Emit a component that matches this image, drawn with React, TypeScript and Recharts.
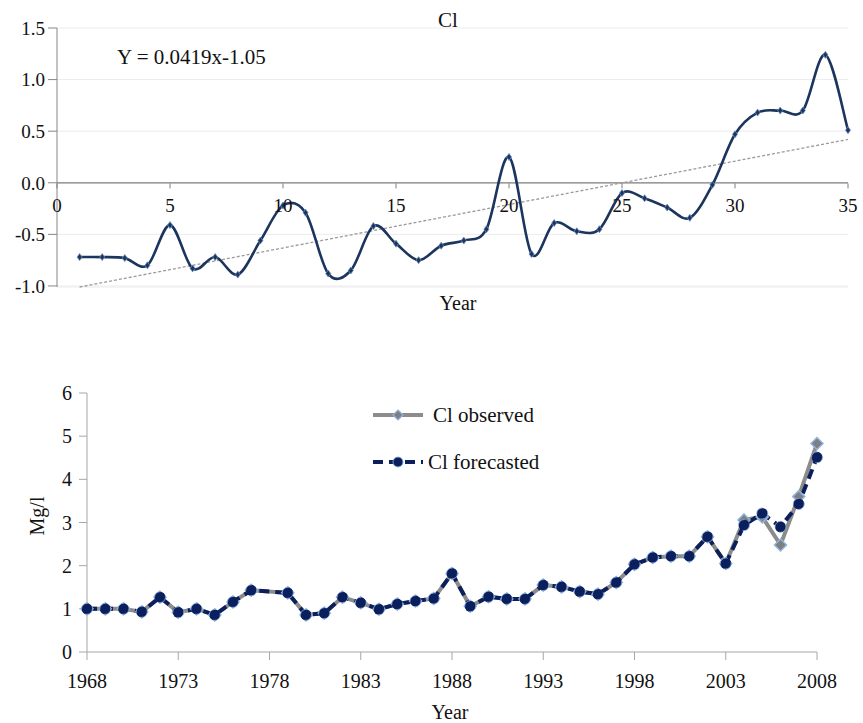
import { LineChart, Line, XAxis, YAxis, CartesianGrid, ReferenceLine } from "recharts";

const FONT = "'Liberation Serif', 'Times New Roman', serif";

// top panel: Cl anomaly by year index
const yearIndex = [1, 2, 3, 4, 5, 6, 7, 8, 9, 10, 11, 12, 13, 14, 15, 16, 17, 18, 19, 20, 21, 22, 23, 24, 25, 26, 27, 28, 29, 30, 31, 32, 33, 34, 35];
const clIndex = [-0.72, -0.72, -0.73, -0.8, -0.41, -0.83, -0.72, -0.89, -0.56, -0.22, -0.29, -0.88, -0.85, -0.42, -0.59, -0.75, -0.61, -0.56, -0.45, 0.25, -0.69, -0.39, -0.47, -0.45, -0.1, -0.15, -0.24, -0.34, -0.02, 0.47, 0.68, 0.7, 0.7, 1.24, 0.51];
const trendX = [1, 35];
const trendY = [-1.01, 0.42];
const topXTicks = [0, 5, 10, 15, 20, 25, 30, 35];
const topYTicks = [-1, -0.5, 0, 0.5, 1, 1.5];

// bottom panel: observed vs forecasted (1978 missing)
const years = [1968, 1969, 1970, 1971, 1972, 1973, 1974, 1975, 1976, 1977, 1978, 1979, 1980, 1981, 1982, 1983, 1984, 1985, 1986, 1987, 1988, 1989, 1990, 1991, 1992, 1993, 1994, 1995, 1996, 1997, 1998, 1999, 2000, 2001, 2002, 2003, 2004, 2005, 2006, 2007, 2008];
const observed = [1.0, 1.0, 1.0, 0.93, 1.27, 0.92, 1.0, 0.86, 1.16, 1.43, null, 1.37, 0.86, 0.9, 1.27, 1.14, 0.99, 1.11, 1.18, 1.24, 1.82, 1.06, 1.28, 1.23, 1.23, 1.55, 1.51, 1.4, 1.34, 1.61, 2.03, 2.19, 2.22, 2.22, 2.67, 2.05, 3.06, 3.13, 2.48, 3.6, 4.83];
const forecasted = [1.0, 1.0, 1.0, 0.93, 1.27, 0.92, 1.0, 0.86, 1.16, 1.43, null, 1.37, 0.86, 0.9, 1.27, 1.14, 0.99, 1.11, 1.18, 1.24, 1.82, 1.06, 1.28, 1.23, 1.23, 1.55, 1.51, 1.4, 1.34, 1.61, 2.03, 2.19, 2.22, 2.22, 2.67, 2.05, 2.94, 3.21, 2.9, 3.43, 4.51];
const yearTicks = [1968, 1973, 1978, 1983, 1988, 1993, 1998, 2003, 2008];
const mgTicks = [0, 1, 2, 3, 4, 5, 6];

const topData = yearIndex.map((x, i) => ({ x, cl: clIndex[i] }));
const trendData = trendX.map((x, i) => ({ x, cl: trendY[i] }));
const bottomData = years.map((year, i) => ({ year, observed: observed[i], forecasted: forecasted[i] }));

const NAVY = "#1c355e";
const DARK_NAVY = "#0b1f5c";

// layout of the top plot, used to put the x axis on the zero line
const TOP_H = 310;
const TOP_MARGIN = 28;
const TOP_XAXIS_H = 23;
const TOP_PLOT_H = TOP_H - TOP_MARGIN - TOP_XAXIS_H;
const ZERO_Y = TOP_MARGIN + TOP_PLOT_H * (1.5 / 2.5);

// excel-like smoothed line (catmull-rom style beziers)
function excelSmooth(context: any) {
  let pts: number[][] = [];
  return {
    areaStart() {},
    areaEnd() {},
    lineStart() {
      pts = [];
    },
    point(x: number, y: number) {
      pts.push([+x, +y]);
    },
    lineEnd() {
      if (!pts.length) return;
      context.moveTo(pts[0][0], pts[0][1]);
      for (let i = 0; i < pts.length - 1; i++) {
        const p0 = pts[i - 1] || pts[i];
        const p1 = pts[i];
        const p2 = pts[i + 1];
        const p3 = pts[i + 2] || p2;
        context.bezierCurveTo(
          p1[0] + (p2[0] - p0[0]) / 6,
          p1[1] + (p2[1] - p0[1]) / 6,
          p2[0] - (p3[0] - p1[0]) / 6,
          p2[1] - (p3[1] - p1[1]) / 6,
          p2[0],
          p2[1]
        );
      }
    },
  };
}

function TopXTick(props: any) {
  const { x, payload } = props;
  return (
    <g>
      <line x1={x} x2={x} y1={ZERO_Y} y2={ZERO_Y + 5} stroke="#7f7f7f" />
      <text x={x} y={ZERO_Y + 29} textAnchor="middle" fontSize={19} fill="#111" style={{ fontFamily: FONT }}>
        {payload.value}
      </text>
    </g>
  );
}

function SmallMarker(props: any) {
  const { cx, cy } = props;
  if (cx == null || cy == null) return null;
  return (
    <path
      d={`M${cx},${cy - 3.5} L${cx + 2.5},${cy} L${cx},${cy + 3.5} L${cx - 2.5},${cy} Z`}
      fill={NAVY}
      stroke="#6f8fc0"
      strokeWidth={0.8}
    />
  );
}

function Diamond(props: any) {
  const { cx, cy } = props;
  if (cx == null || cy == null) return null;
  return (
    <path
      d={`M${cx},${cy - 6} L${cx + 6},${cy} L${cx},${cy + 6} L${cx - 6},${cy} Z`}
      fill="#7f7f7f"
      stroke="#8db3e2"
      strokeWidth={1.5}
    />
  );
}

function LegendBox() {
  const rows = [
    { name: "Cl observed", top: 405, kind: "obs" },
    { name: "Cl forecasted", top: 452, kind: "fc" },
  ];
  return (
    <>
      {rows.map((r) => (
        <div key={r.name} style={{ position: "absolute", left: 372, top: r.top, display: "flex", alignItems: "center", height: 20 }}>
          <svg width={52} height={20}>
            {r.kind === "obs" ? (
              <>
                <line x1={1} x2={51} y1={10} y2={10} stroke="#8c8c8c" strokeWidth={4} />
                <path d="M26,5 L31,10 L26,15 L21,10 Z" fill="#7f7f7f" stroke="#8db3e2" strokeWidth={1.2} />
              </>
            ) : (
              <>
                <line x1={1} x2={51} y1={10} y2={10} stroke={DARK_NAVY} strokeWidth={4} strokeDasharray="10 6" />
                <circle cx={26} cy={10} r={5} fill={DARK_NAVY} stroke="#8db3e2" strokeWidth={0.8} />
              </>
            )}
          </svg>
          <span style={{ marginLeft: r.kind === "obs" ? 9 : 4, fontFamily: FONT, fontSize: 21, lineHeight: "20px", color: "#111", whiteSpace: "nowrap" }}>
            {r.name}
          </span>
        </div>
      ))}
    </>
  );
}

function Caption({ x, y, size, children, rotate }: any) {
  return (
    <div
      style={{
        position: "absolute",
        left: x,
        top: y,
        transform: `translate(-50%, -50%)${rotate ? ` rotate(${rotate}deg)` : ""}`,
        fontFamily: FONT,
        fontSize: size,
        lineHeight: 1,
        color: "#111",
        whiteSpace: "nowrap",
      }}
    >
      {children}
    </div>
  );
}

const tickStyle = (size: number) => ({ fontSize: size, fill: "#111", fontFamily: FONT, style: { fontFamily: FONT } });

export default function App() {
  return (
    <div style={{ position: "relative", width: 863, height: 723, background: "#fff", overflow: "hidden", fontFamily: FONT }}>
      <style>{`body{margin:0} svg text, svg tspan{font-family:${FONT} !important;}`}</style>

      <div style={{ position: "absolute", left: 0, top: 0 }}>
        <LineChart width={863} height={TOP_H} data={topData} margin={{ top: TOP_MARGIN, right: 15, bottom: 0, left: 0 }}>
          <CartesianGrid vertical={false} stroke="#ececec" />
          <XAxis
            dataKey="x"
            type="number"
            domain={[0, 35]}
            ticks={topXTicks}
            axisLine={false}
            tickLine={false}
            height={TOP_XAXIS_H}
            tick={<TopXTick />}
            interval={0}
          />
          <YAxis
            type="number"
            domain={[-1, 1.5]}
            ticks={topYTicks}
            width={57}
            tickSize={9}
            tickMargin={3}
            stroke="#868686"
            tickFormatter={(v: number) => v.toFixed(1)}
            tick={tickStyle(19)}
            interval={0}
          />
          <ReferenceLine y={0} stroke="#7f7f7f" strokeWidth={1.2} />
          <Line
            data={trendData}
            dataKey="cl"
            type="linear"
            stroke="#9a9a9a"
            strokeWidth={1.3}
            strokeDasharray="3 2"
            dot={false}
            activeDot={false}
            isAnimationActive={false}
          />
          <Line
            dataKey="cl"
            type={excelSmooth as any}
            stroke={NAVY}
            strokeWidth={2.6}
            dot={<SmallMarker />}
            activeDot={false}
            isAnimationActive={false}
          />
        </LineChart>
      </div>

      <Caption x={448} y={20} size={21}>Cl</Caption>
      <div style={{ position: "absolute", left: 117, top: 57, transform: "translateY(-50%)", fontFamily: FONT, fontSize: 21, lineHeight: 1, color: "#111", whiteSpace: "nowrap" }}>
        Y = 0.0419x-1.05
      </div>
      <Caption x={458} y={303} size={20}>Year</Caption>

      <div style={{ position: "absolute", left: 0, top: 370 }}>
        <LineChart width={863} height={353} data={bottomData} margin={{ top: 23, right: 46, bottom: 0, left: 0 }}>
          <XAxis
            dataKey="year"
            type="number"
            domain={[1968, 2008]}
            ticks={yearTicks}
            interval={0}
            height={71}
            tickSize={8}
            tickMargin={14}
            stroke="#a6a6a6"
            tick={tickStyle(20)}
          />
          <YAxis
            type="number"
            domain={[0, 6]}
            ticks={mgTicks}
            interval={0}
            width={87}
            tickSize={8}
            tickMargin={7}
            stroke="#a6a6a6"
            tick={tickStyle(20)}
          />
          <Line
            dataKey="observed"
            type="linear"
            stroke="#8c8c8c"
            strokeWidth={4}
            connectNulls
            dot={<Diamond />}
            activeDot={false}
            isAnimationActive={false}
          />
          <Line
            dataKey="forecasted"
            type="linear"
            stroke={DARK_NAVY}
            strokeWidth={4}
            strokeDasharray="10 6"
            connectNulls
            dot={{ r: 5.5, fill: DARK_NAVY, stroke: "#8db3e2", strokeWidth: 0.8 }}
            activeDot={false}
            isAnimationActive={false}
          />
        </LineChart>
      </div>

      <LegendBox />
      <Caption x={37} y={516} size={20} rotate={-90}>Mg/l</Caption>
      <Caption x={450} y={712} size={20}>Year</Caption>
    </div>
  );
}
